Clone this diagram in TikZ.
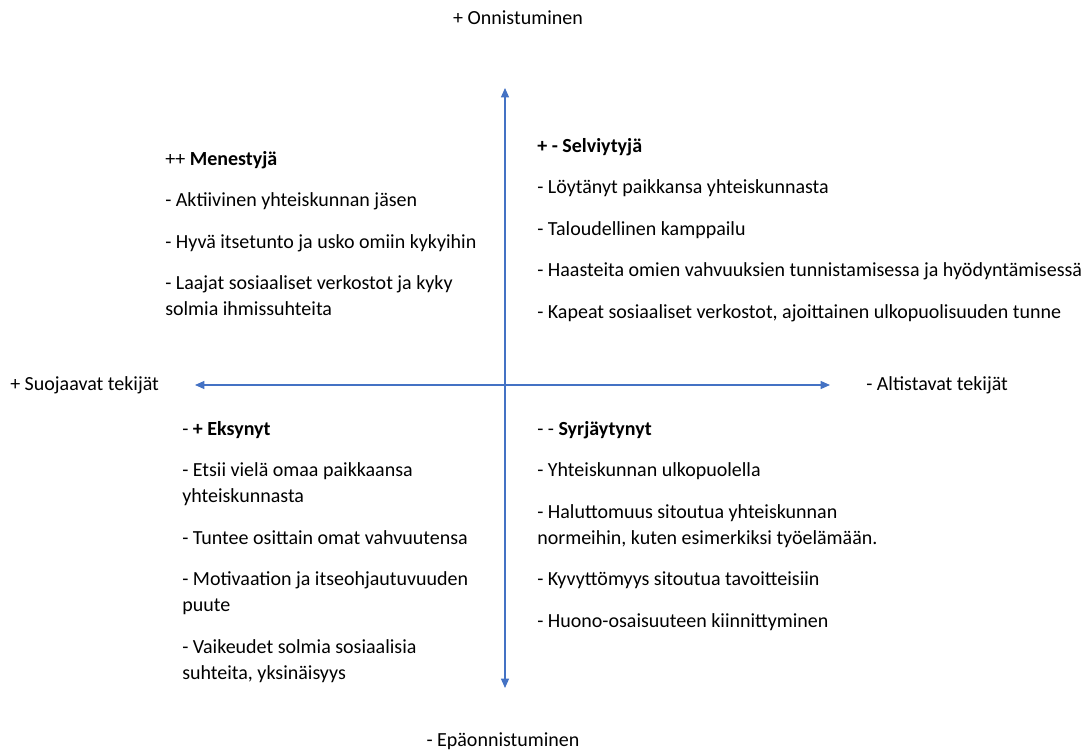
\documentclass[tikz,border=0pt]{standalone}
\usepackage{fontspec}
\setmainfont{Carlito}
\usepackage{xcolor}
\usetikzlibrary{positioning,arrows.meta}
\definecolor{axisblue}{HTML}{4472C4}

\begin{document}
\begin{tikzpicture}[x=0.75pt, y=-0.75pt,
  font=\fontsize{15}{19.5}\selectfont,
  node distance=11.25pt and 0pt,
  label/.style={inner sep=0pt},
  entry/.style={inner sep=0pt, text width=600pt, align=flush left, execute at begin node=\strut, execute at end node=\strut},
  axis/.style={axisblue, line width=0.9pt, {Triangle[length=7pt,width=6pt]}-{Triangle[length=7pt,width=6pt]}}]
  \useasboundingbox (0,0) rectangle (1088,753);
  % Axes
  \coordinate (top) at (505,88);
  \coordinate (bottom) at (505,688);
  \coordinate (left) at (195,385);
  \coordinate (right) at (830,385);
  \draw[axis] (bottom) -- (top);
  \draw[axis] (left) -- (right);
  \node[label] (success) at (518,18) {+ Onnistuminen};
  \node[label] (failure) at (503,741) {- Epäonnistuminen};
  \node[label, anchor=west] (protect) at (10,385) {+ Suojaavat tekijät};
  \node[label, anchor=west] (expose) at (866,385) {- Altistavat tekijät};
  % Top left
  \node[entry, anchor=west] (menestyja) at (165,160) {++ \textbf{Menestyjä}};
  \node[entry, below right=of menestyja.south west] (m1) {- Aktiivinen yhteiskunnan jäsen};
  \node[entry, below right=of m1.south west] (m2) {- Hyvä itsetunto ja usko omiin kykyihin};
  \node[entry, below right=of m2.south west] (m3) {- Laajat sosiaaliset verkostot ja kyky\\solmia ihmissuhteita};
  % Top right
  \node[entry, anchor=west] (selviytyja) at (537,147) {\textbf{+ - Selviytyjä}};
  \node[entry, below right=of selviytyja.south west] (s1) {- Löytänyt paikkansa yhteiskunnasta};
  \node[entry, below right=of s1.south west] (s2) {- Taloudellinen kamppailu};
  \node[entry, below right=of s2.south west] (s3) {- Haasteita omien vahvuuksien tunnistamisessa ja hyödyntämisessä};
  \node[entry, below right=of s3.south west] (s4) {- Kapeat sosiaaliset verkostot, ajoittainen ulkopuolisuuden tunne};
  % Bottom left
  \node[entry, anchor=west] (eksynyt) at (182,430) {- \textbf{+ Eksynyt}};
  \node[entry, below right=of eksynyt.south west] (e1) {- Etsii vielä omaa paikkaansa\\yhteiskunnasta};
  \node[entry, below right=of e1.south west] (e2) {- Tuntee osittain omat vahvuutensa};
  \node[entry, below right=of e2.south west] (e3) {- Motivaation ja itseohjautuvuuden\\puute};
  \node[entry, below right=of e3.south west] (e4) {- Vaikeudet solmia sosiaalisia\\suhteita, yksinäisyys};
  % Bottom right
  \node[entry, anchor=west] (syrjaytynyt) at (537,430) {- - \textbf{Syrjäytynyt}};
  \node[entry, below right=of syrjaytynyt.south west] (y1) {- Yhteiskunnan ulkopuolella};
  \node[entry, below right=of y1.south west] (y2) {- Haluttomuus sitoutua yhteiskunnan\\normeihin, kuten esimerkiksi työelämään.};
  \node[entry, below right=of y2.south west] (y3) {- Kyvyttömyys sitoutua tavoitteisiin};
  \node[entry, below right=of y3.south west] (y4) {- Huono-osaisuuteen kiinnittyminen};
\end{tikzpicture}
\end{document}
